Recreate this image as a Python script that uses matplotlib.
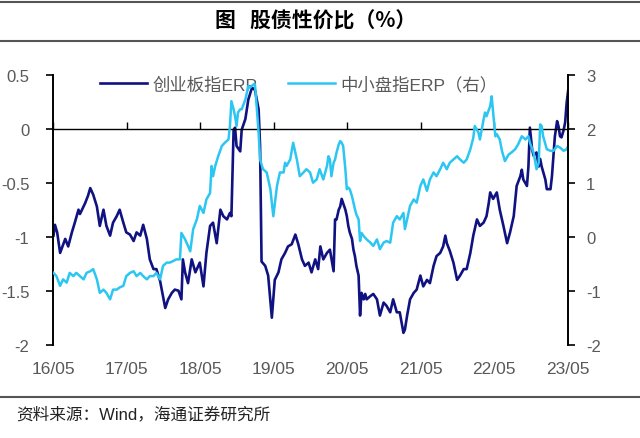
import matplotlib
matplotlib.use("Agg")
import matplotlib.pyplot as plt
from matplotlib.lines import Line2D

plt.rcParams['font.family'] = ['Liberation Sans', 'Noto Sans CJK SC', 'DejaVu Sans']
plt.rcParams['axes.unicode_minus'] = False

# ---- data (decimal years) ----
cyb_t = [2016.34, 2016.36, 2016.39, 2016.43, 2016.50, 2016.54, 2016.59, 2016.63, 2016.68, 2016.70,
         2016.77, 2016.81, 2016.84, 2016.88, 2016.93, 2016.97, 2017.02, 2017.06, 2017.11, 2017.15,
         2017.20, 2017.24, 2017.29, 2017.33, 2017.38, 2017.43, 2017.47, 2017.52, 2017.56, 2017.61,
         2017.65, 2017.70, 2017.74, 2017.79, 2017.83, 2017.86, 2017.90, 2017.95, 2017.99, 2018.04,
         2018.08, 2018.10, 2018.13, 2018.17, 2018.22, 2018.27, 2018.33, 2018.38, 2018.42, 2018.47,
         2018.51, 2018.56, 2018.61, 2018.65, 2018.70, 2018.74, 2018.76, 2018.79, 2018.81, 2018.83,
         2018.88, 2018.90, 2018.95, 2018.99, 2019.04, 2019.08, 2019.13, 2019.15, 2019.17, 2019.22,
         2019.26, 2019.31, 2019.35, 2019.40, 2019.44, 2019.49, 2019.53, 2019.58, 2019.63, 2019.67,
         2019.72, 2019.76, 2019.81, 2019.85, 2019.90, 2019.94, 2019.97, 2020.01, 2020.06, 2020.10,
         2020.15, 2020.17, 2020.19, 2020.22, 2020.24, 2020.26, 2020.28, 2020.31, 2020.33, 2020.35,
         2020.37, 2020.40, 2020.42, 2020.44, 2020.46, 2020.49, 2020.51, 2020.53, 2020.56, 2020.58,
         2020.60, 2020.65, 2020.69, 2020.74, 2020.78, 2020.83, 2020.87, 2020.92, 2020.96, 2021.01,
         2021.05, 2021.10, 2021.12, 2021.15, 2021.19, 2021.24, 2021.28, 2021.33, 2021.37, 2021.42,
         2021.46, 2021.51, 2021.55, 2021.60, 2021.64, 2021.67, 2021.69, 2021.73, 2021.78, 2021.83,
         2021.87, 2021.92, 2021.96, 2022.01, 2022.05, 2022.10, 2022.14, 2022.19, 2022.23, 2022.26,
         2022.28, 2022.32, 2022.37, 2022.41, 2022.46, 2022.51, 2022.55, 2022.60, 2022.64, 2022.69,
         2022.71, 2022.73, 2022.78, 2022.80, 2022.82, 2022.85, 2022.87, 2022.91, 2022.94, 2022.96,
         2022.98, 2023.03, 2023.05, 2023.10, 2023.12, 2023.14, 2023.16, 2023.19, 2023.21, 2023.23,
         2023.25, 2023.28, 2023.30, 2023.32, 2023.34]
cyb_erp = [-0.99, -0.89, -0.96, -1.15, -1.02, -1.09, -0.96, -0.87, -0.75, -0.79,
           -0.69, -0.62, -0.55, -0.61, -0.72, -0.90, -0.75, -0.90, -0.99, -0.87,
           -0.81, -0.75, -0.87, -0.96, -0.98, -1.04, -0.96, -0.99, -0.89, -1.02,
           -1.21, -1.30, -1.30, -1.41, -1.55, -1.66, -1.58, -1.52, -1.49, -1.50,
           -1.58, -1.21, -1.33, -1.43, -1.21, -1.33, -1.24, -1.46, -1.15, -0.90,
           -0.87, -1.06, -0.75, -0.81, -0.84, -0.78, -0.81, -0.01, 0.01, -0.16,
           -0.21, -0.01, 0.09, 0.27, 0.38, 0.36, 0.18, -0.16, -1.23, -1.27,
           -1.36, -1.75, -1.40, -1.33, -1.21, -1.15, -1.09, -1.07, -0.98, -1.07,
           -1.21, -1.27, -1.24, -1.33, -1.21, -1.30, -1.09, -1.21, -1.15, -1.12,
           -1.32, -0.84, -0.84, -0.75, -0.72, -0.65, -0.69, -0.75, -0.81, -0.90,
           -0.96, -1.02, -1.12, -1.18, -1.27, -1.36, -1.73, -1.52, -1.58, -1.53,
           -1.58, -1.55, -1.53, -1.58, -1.73, -1.61, -1.64, -1.70, -1.58, -1.70,
           -1.70, -1.89, -1.86, -1.73, -1.58, -1.52, -1.49, -1.36, -1.46, -1.40,
           -1.43, -1.27, -1.18, -1.15, -1.09, -0.99, -1.06, -1.13, -1.24, -1.40,
           -1.36, -1.30, -1.30, -1.15, -0.99, -0.84, -0.90, -0.87, -0.81, -0.69,
           -0.59, -0.65, -0.59, -0.75, -0.90, -1.06, -0.96, -0.81, -0.53, -0.44,
           -0.38, -0.47, -0.53, -0.35, 0.01, -0.19, -0.25, -0.22, -0.35, -0.28,
           -0.35, -0.47, -0.56, -0.56, -0.44, -0.25, -0.07, 0.07, 0.02, -0.07,
           -0.08, -0.01, 0.06, 0.24, 0.35]

zxb_t = [2016.34, 2016.38, 2016.43, 2016.47, 2016.52, 2016.56, 2016.61, 2016.65, 2016.70, 2016.75,
         2016.79, 2016.84, 2016.88, 2016.93, 2016.97, 2017.02, 2017.06, 2017.11, 2017.15, 2017.20,
         2017.24, 2017.29, 2017.33, 2017.38, 2017.43, 2017.47, 2017.52, 2017.56, 2017.61, 2017.65,
         2017.70, 2017.74, 2017.79, 2017.83, 2017.88, 2017.92, 2017.97, 2018.01, 2018.06, 2018.08,
         2018.13, 2018.17, 2018.20, 2018.24, 2018.29, 2018.33, 2018.38, 2018.42, 2018.47, 2018.49,
         2018.51, 2018.54, 2018.58, 2018.63, 2018.67, 2018.72, 2018.74, 2018.76, 2018.79, 2018.81,
         2018.83, 2018.85, 2018.88, 2018.90, 2018.95, 2018.97, 2018.99, 2019.01, 2019.06, 2019.08,
         2019.10, 2019.13, 2019.15, 2019.19, 2019.24, 2019.29, 2019.33, 2019.38, 2019.42, 2019.47,
         2019.49, 2019.51, 2019.56, 2019.60, 2019.65, 2019.69, 2019.74, 2019.78, 2019.83, 2019.87,
         2019.92, 2019.96, 2020.01, 2020.06, 2020.08, 2020.10, 2020.12, 2020.15, 2020.17, 2020.19,
         2020.22, 2020.24, 2020.26, 2020.28, 2020.31, 2020.33, 2020.35, 2020.37, 2020.40, 2020.42,
         2020.44, 2020.46, 2020.49, 2020.51, 2020.53, 2020.56, 2020.60, 2020.65, 2020.69, 2020.74,
         2020.78, 2020.83, 2020.87, 2020.92, 2020.96, 2021.01, 2021.05, 2021.10, 2021.12, 2021.15,
         2021.19, 2021.24, 2021.28, 2021.33, 2021.37, 2021.42, 2021.46, 2021.51, 2021.55, 2021.60,
         2021.64, 2021.69, 2021.73, 2021.78, 2021.83, 2021.87, 2021.92, 2021.96, 2022.01, 2022.05,
         2022.07, 2022.12, 2022.14, 2022.19, 2022.21, 2022.23, 2022.28, 2022.30, 2022.32, 2022.35,
         2022.37, 2022.41, 2022.44, 2022.48, 2022.53, 2022.57, 2022.62, 2022.66, 2022.71, 2022.76,
         2022.80, 2022.82, 2022.87, 2022.91, 2022.94, 2022.96, 2022.98, 2023.00, 2023.05, 2023.10,
         2023.14, 2023.19, 2023.23, 2023.28, 2023.32, 2023.34]
zxb_erp = [-0.67, -0.73, -0.91, -0.79, -0.85, -0.67, -0.73, -0.67, -0.73, -0.79,
           -0.67, -0.64, -0.60, -0.79, -1.04, -0.98, -1.04, -1.16, -0.98, -0.98,
           -0.94, -0.91, -0.73, -0.67, -0.64, -0.73, -0.67, -0.73, -0.79, -0.73,
           -0.73, -0.67, -0.79, -0.54, -0.48, -0.48, -0.45, -0.42, -0.42, 0.07,
           -0.05, -0.17, -0.27, 0.14, 0.32, 0.57, 0.44, 0.69, 0.81, 1.31,
           1.12, 1.31, 1.49, 1.68, 1.74, 1.80, 2.05, 2.51, 2.36, 2.23,
           2.05, 2.30, 2.36, 2.36, 2.54, 2.67, 2.79, 2.76, 2.82, 2.82,
           2.48, 1.93, 1.43, 1.25, 1.19, 0.88, 0.38, 0.94, 1.19, 1.19,
           1.37, 1.31, 1.43, 1.74, 1.43, 1.12, 1.19, 1.25, 1.19, 1.00,
           1.06, 1.25, 1.06, 1.31, 1.49, 1.43, 1.12, 1.37, 1.43, 1.56,
           1.71, 1.77, 1.74, 1.68, 1.25, 0.88, 0.91, 0.88, 0.75, 0.63,
           0.51, 0.41, 0.32, -0.08, 0.07, 0.01, -0.05, -0.11, -0.17, -0.05,
           -0.23, -0.11, -0.08, -0.11, 0.26, 0.38, 0.32, 0.44, 0.14, 0.32,
           0.57, 0.69, 0.63, 0.94, 1.06, 0.85, 1.06, 1.19, 1.12, 1.25,
           1.37, 1.25, 1.37, 1.43, 1.49, 1.43, 1.37, 1.43, 1.62, 1.83,
           2.05, 1.93, 1.80, 2.17, 2.30, 2.23, 2.42, 2.60, 2.30, 1.86,
           1.90, 1.80, 1.59, 1.40, 1.52, 1.56, 1.62, 1.71, 1.86, 1.80,
           1.86, 1.74, 1.56, 1.25, 1.37, 2.08, 2.05, 1.86, 1.62, 1.59,
           1.59, 1.68, 1.65, 1.59, 1.62, 1.68]

x_ticks = [2016 + 4 / 12 + k for k in range(8)]
x_labels = ['16/05', '17/05', '18/05', '19/05', '20/05', '21/05', '22/05', '23/05']
left_ticks = [0.5, 0, -0.5, -1, -1.5, -2]
left_labels = ['0.5', '0', '-0.5', '-1', '-1.5', '-2']
right_ticks = [3, 2, 1, 0, -1, -2]
right_labels = ['3', '2', '1', '0', '-1', '-2']
names = ['创业板指ERP', '中小盘指ERP（右）']

DARK = '#0f1280'
LIGHT = '#2cc6f2'
GRAY = '#595959'

fig = plt.figure(figsize=(6.4, 4.39), dpi=100)
ax = fig.add_axes([53 / 640, 1 - 345.7 / 439, 515 / 640, 270 / 439])
ax2 = ax.twinx()

ax.plot(cyb_t, cyb_erp, color=DARK, lw=1.9, solid_joinstyle='round')
ax2.plot(zxb_t, zxb_erp, color=LIGHT, lw=1.8, solid_joinstyle='round')

ax.set_xlim(x_ticks[0], x_ticks[-1] + 0.005)
ax.set_ylim(-2, 0.5)
ax2.set_ylim(-2, 3)

ax.set_yticks(left_ticks, left_labels)
ax2.set_yticks(right_ticks, right_labels)

for s in ['top', 'right']:
    ax.spines[s].set_visible(False)
for s in ['top', 'left', 'bottom']:
    ax2.spines[s].set_visible(False)
ax.spines['left'].set_linewidth(1.4)
ax2.spines['right'].set_linewidth(1.4)
ax.spines['bottom'].set_position(('data', 0))
ax.spines['bottom'].set_linewidth(1.0)

ax.set_xticks(x_ticks)
ax.tick_params(axis='x', direction='in', length=5, width=1.0, labelbottom=False)
ax.tick_params(axis='y', direction='out', length=5, width=1.2, pad=12,
               labelsize=12, labelcolor=GRAY)
ax2.tick_params(axis='y', direction='out', length=5, width=1.2, pad=8,
                labelsize=12, labelcolor=GRAY)

sec = ax.secondary_xaxis('bottom')
sec.set_xticks(x_ticks, x_labels)
sec.spines['bottom'].set_visible(False)
sec.tick_params(length=0, pad=12, labelsize=12.5, labelcolor=GRAY)

handles = [Line2D([], [], color=DARK, lw=1.9), Line2D([], [], color=LIGHT, lw=1.8)]
leg = ax.legend(handles, names, loc='center left', bbox_to_anchor=(47 / 515, 0.965),
                ncol=2, frameon=False, fontsize=12.5, handlelength=2.7,
                handletextpad=0.3, columnspacing=1.8, borderpad=0, borderaxespad=0)
for t in leg.get_texts():
    t.set_color(GRAY)

# title, rules and source
for yy in (3, 42, 398):
    fig.add_artist(Line2D([0, 1], [1 - yy / 439, 1 - yy / 439], color='#555555', lw=1.5,
                          transform=fig.transFigure))
fig.text(316 / 640, 1 - 21 / 439, '图   股债性价比（%）', ha='center', va='center',
         fontsize=15, fontweight='bold', family=['Noto Sans CJK SC', 'DejaVu Sans'])
fig.text(16 / 640, 1 - 414 / 439, '资料来源：Wind，海通证券研究所', ha='left', va='center',
         fontsize=12, color='#222222', family=['Liberation Sans', 'Noto Sans CJK SC'])

fig.savefig('out.png', dpi=100, facecolor='white')
